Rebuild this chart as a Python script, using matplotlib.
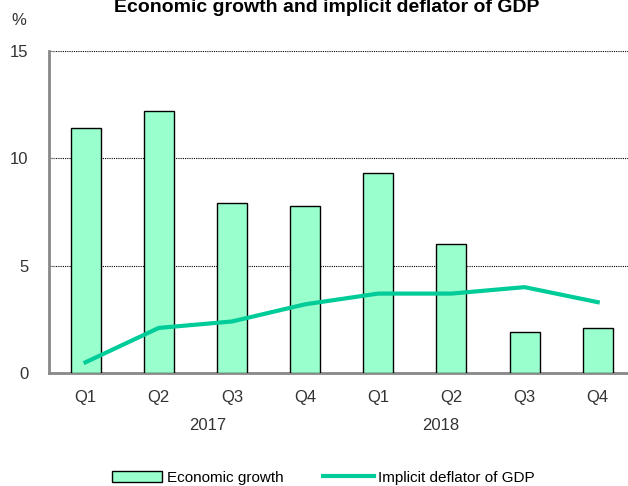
import matplotlib.pyplot as plt
import numpy as np

plt.rcParams['font.family'] = ['Liberation Sans', 'DejaVu Sans']

quarters = ['Q1', 'Q2', 'Q3', 'Q4', 'Q1', 'Q2', 'Q3', 'Q4']
years = ['2017', '2018']
year_pos = [1.67, 4.86]
growth = [11.4, 12.2, 7.9, 7.8, 9.3, 6.0, 1.9, 2.1]
deflator = [0.5, 2.1, 2.4, 3.2, 3.7, 3.7, 4.0, 3.3]

fig = plt.figure(figsize=(6.28, 4.86), dpi=100)
ax = fig.add_axes([0.078, 0.2325, 0.932, 0.6625])

x = np.arange(len(quarters))
bars = ax.bar(x, growth, width=0.41, color='#99ffcc', edgecolor='black', linewidth=1,
              label='Economic growth', zorder=3)
line, = ax.plot(x, deflator, color='#00cc99', linewidth=3,
                label='Implicit deflator of GDP', zorder=4)

ax.set_xlim(-0.5, 7.5)
ax.set_ylim(0, 15)
ax.set_yticks([0, 5, 10, 15])
ax.yaxis.grid(True, linestyle=(0, (1, 1)), color='black', linewidth=0.8, zorder=0)
ax.set_xticks(x)
ax.set_xticklabels(quarters, fontsize=12, color='#333333')
ax.tick_params(axis='x', length=0, pad=12)
ax.tick_params(axis='y', direction='in', length=4, color='#888888', labelsize=12,
               labelcolor='#333333', pad=15)

for s in ['top', 'right']:
    ax.spines[s].set_visible(False)
ax.spines['left'].set_color('#888888')
ax.spines['left'].set_linewidth(2)
ax.spines['bottom'].set_color('#888888')
ax.spines['bottom'].set_linewidth(2)

for p, yr in zip(year_pos, years):
    ax.text(p, -2.45, yr, ha='center', va='center', fontsize=12, color='#333333')

fig.text(0.03, 0.957, '%', ha='center', va='center', fontsize=12, color='#333333')
fig.text(0.52, 0.985, 'Economic growth and implicit deflator of GDP', ha='center',
         va='center', fontsize=14, fontweight='bold')

fig.legend([bars, line], ['Economic growth', 'Implicit deflator of GDP'],
           loc='center', bbox_to_anchor=(0.515, 0.017), ncol=2, frameon=False,
           fontsize=11, handlelength=3.3, columnspacing=2.6, handletextpad=0.3)

fig.savefig('out.png', dpi=100)
